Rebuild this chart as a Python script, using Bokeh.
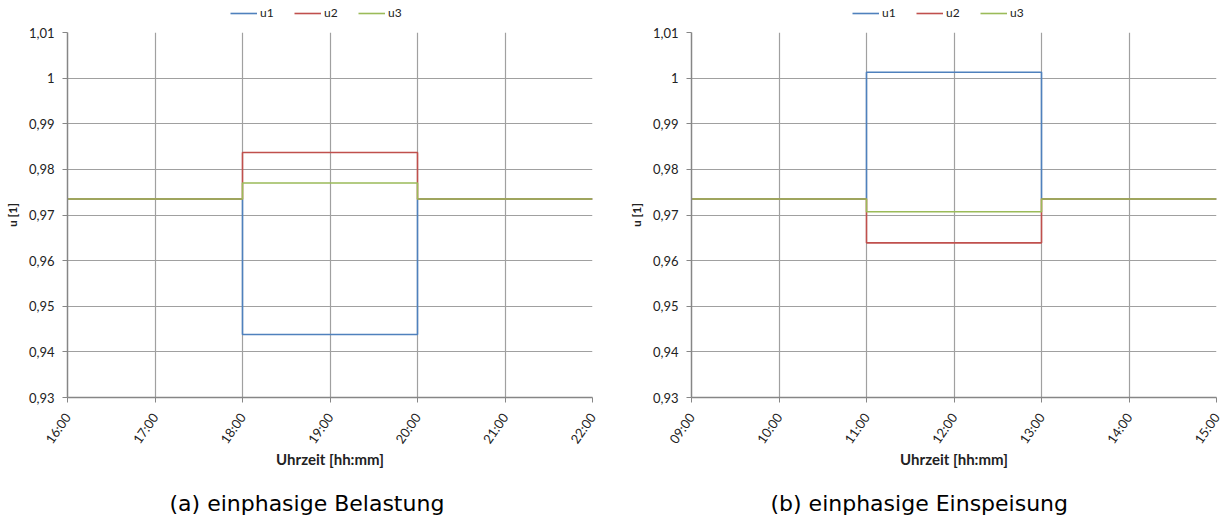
from bokeh.plotting import figure
from bokeh.layouts import row, column
from bokeh.models import FixedTicker, Legend, LegendItem, Title
from bokeh.embed import file_html
from bokeh.resources import INLINE
import math

# ---- data ----
times_a = [16, 18, 20, 22]
times_b = [9, 11, 13, 15]
u1_a = [0.9735, 0.9438, 0.9735, 0.9735]
u2_a = [0.9735, 0.9837, 0.9735, 0.9735]
u3_a = [0.9735, 0.9770, 0.9735, 0.9735]
u1_b = [0.9735, 1.0013, 0.9735, 0.9735]
u2_b = [0.9735, 0.9639, 0.9735, 0.9735]
u3_b = [0.9735, 0.9707, 0.9735, 0.9735]
xticks_a = [16, 17, 18, 19, 20, 21, 22]
xticks_b = [9, 10, 11, 12, 13, 14, 15]
yticks = [0.93, 0.94, 0.95, 0.96, 0.97, 0.98, 0.99, 1.0, 1.01]
ytick_labels = ["0,93", "0,94", "0,95", "0,96", "0,97", "0,98", "0,99", "1", "1,01"]
series_names = ["u1", "u2", "u3"]
colors = ["#4F81BD", "#C0504D", "#9BBB59"]
captions = ["(a) einphasige Belastung", "(b) einphasige Einspeisung"]

FONT = "Lato"
GRID = "#a0a0a0"
AX = "#868686"
TXT = "#222222"
LW = 1.6


def legend_fig(main, times, series, x0):
    # legend strip above the plot; it draws the same series, but out of view
    lf = figure(width=612, height=22, output_backend="svg", toolbar_location=None,
                x_axis_type=None, y_axis_type=None, min_border=0,
                x_range=main.x_range, y_range=(2, 3))
    lf.outline_line_color = None
    lf.border_fill_color = "white"
    items = []
    for name, vals, c in zip(series_names, series, colors):
        r = lf.step(times, vals, mode="after", line_color=c, line_width=LW)
        items.append(LegendItem(label=name, renderers=[r]))
    leg = Legend(items=items, orientation="horizontal", location=(x0, 2),
                 label_text_font=FONT, label_text_font_size="12px",
                 label_text_color=TXT,
                 glyph_width=27, glyph_height=12, label_height=12,
                 label_standoff=3, spacing=14, padding=0, margin=0,
                 border_line_color=None, background_fill_alpha=0)
    lf.add_layout(leg)
    return lf


def make(times, series, xticks, caption, bl, br, cap_offset):
    p = figure(frame_width=525, frame_height=365, output_backend="svg", toolbar_location=None,
               x_range=(xticks[0], xticks[-1]), y_range=(0.93, 1.01),
               min_border_left=bl, min_border_right=br, min_border_top=10,
               min_border_bottom=124)
    p.outline_line_color = None
    p.background_fill_color = "white"
    p.border_fill_color = "white"
    for name, vals, c in zip(series_names, series, colors):
        p.step(times, vals, mode="after", line_color=c, line_width=LW)

    p.xaxis.ticker = FixedTicker(ticks=xticks)
    p.xaxis.major_label_overrides = {t: f"{t:02d}:00" for t in xticks}
    p.xaxis.major_label_orientation = math.radians(55)
    p.yaxis.ticker = FixedTicker(ticks=yticks)
    p.yaxis.major_label_overrides = dict(zip(yticks, ytick_labels))
    for ax in (p.xaxis, p.yaxis):
        ax.axis_line_color = AX
        ax.axis_line_width = 1.5
        ax.major_tick_line_color = AX
        ax.major_tick_out = 5
        ax.major_tick_in = 0
        ax.minor_tick_line_color = None
        ax.major_label_text_font = FONT
        ax.major_label_text_font_size = "13px"
        ax.major_label_text_color = TXT
        ax.axis_label_text_font = FONT
        ax.axis_label_text_font_style = "bold"
        ax.axis_label_text_color = TXT
    p.xaxis.axis_label = "Uhrzeit [hh:mm]"
    p.yaxis.axis_label = "u [1]"
    p.xaxis.axis_label_text_font_size = "15px"
    p.yaxis.axis_label_text_font_size = "12px"
    p.xaxis.axis_label_standoff = -4
    p.yaxis.axis_label_standoff = 6
    p.yaxis.major_label_standoff = 8
    p.xaxis.major_label_standoff = 12
    for g in (p.xgrid, p.ygrid):
        g.grid_line_color = GRID
        g.grid_line_width = 1.2
    p.add_layout(Title(text=caption, align="left", text_font="DejaVu Sans",
                       text_font_size="22px", text_font_style="normal",
                       text_color="black", standoff=34, offset=cap_offset), "below")
    return p


pa = make(times_a, [u1_a, u2_a, u3_a], xticks_a, captions[0], 67, 20, 102)
pb = make(times_b, [u1_b, u2_b, u3_b], xticks_b, captions[1], 79, 8, 79)
la = legend_fig(pa, times_a, [u1_a, u2_a, u3_a], 163)
lb = legend_fig(pb, times_b, [u1_b, u2_b, u3_b], 161)
layout = row(column(la, pa, spacing=0), column(lb, pb, spacing=0), spacing=0)
open("out.html", "w").write(file_html(layout, INLINE))
